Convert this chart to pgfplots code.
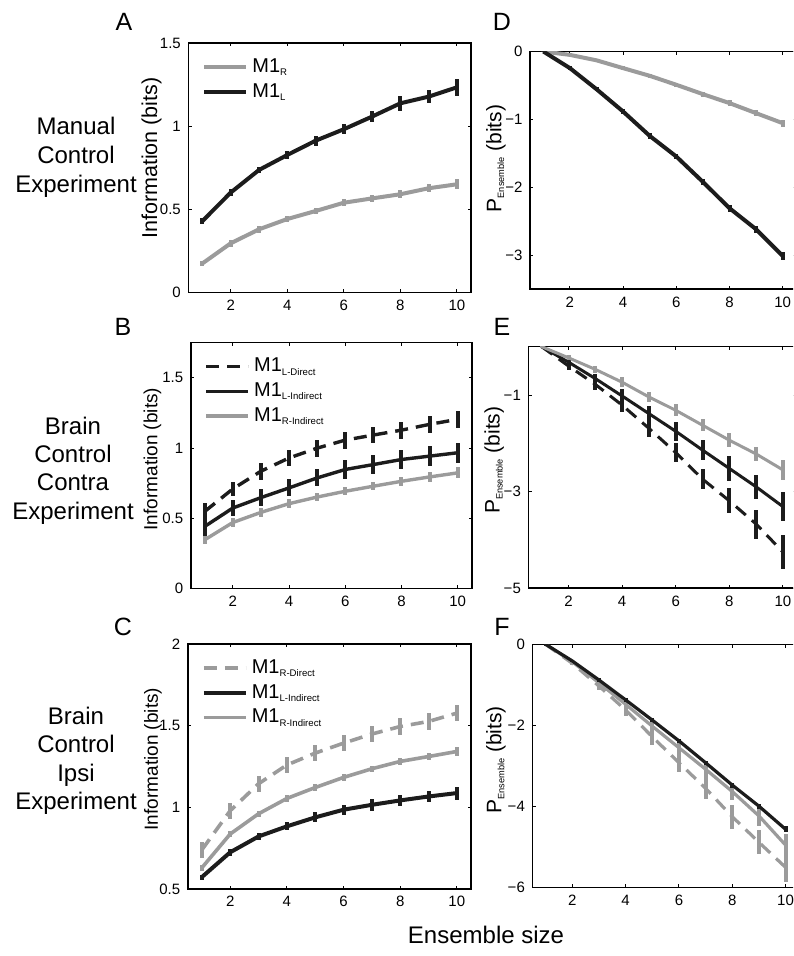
\documentclass[border=0pt]{standalone}
\usepackage{pgfplots}
\pgfplotsset{compat=1.18}
\usepackage{fontspec}
\setmainfont{Liberation Sans}
\definecolor{cblack}{RGB}{28,28,28}
\definecolor{cgray}{RGB}{155,155,155}
\newcommand{\sub}[1]{\raisebox{-1.6pt}{\fontsize{4.8}{5}\selectfont #1}}
\newcommand{\ysub}[1]{\raisebox{-1.4pt}{\fontsize{4.6}{5}\selectfont #1}}
\pgfplotsset{
  panel/.style={scale only axis, anchor=south west, xmin=0.5, xmax=10.5,
    xtick={2,4,6,8,10}, xticklabels={2,4,6,8,10},
    tick align=inside, major tick length=1.6pt,
    every axis/.append style={line width=0.8pt},
    every tick/.append style={line width=0.5pt, black},
    tick label style={font=\fontsize{7.5}{8}\selectfont},
    /pgf/number format/assume math mode=true,
    legend cell align=left,
    legend style={draw=none, fill=none, at={(0.04,0.965)}, anchor=north west,
      font=\fontsize{10}{11.5}\selectfont, inner sep=1pt, row sep=0pt},
    legend image code/.code={\draw[##1] (0pt,0pt) -- (21pt,0pt);},
    error bars/y dir=both, error bars/y explicit, error bars/error mark=none,
  },
  blk/.style={color=cblack, solid, line width=#1, no marks, error bars/error bar style={solid, line width=2pt, color=cblack}},
  gry/.style={color=cgray, solid, line width=#1, no marks, error bars/error bar style={solid, line width=2pt, color=cgray}},
  dsh/.style={dash pattern=on 6.5pt off 4pt},
}
\begin{document}
\begin{tikzpicture}
\path[use as bounding box, clip] (0,0) rectangle (396.5pt,478pt);

% ---------- A ----------
\begin{axis}[panel, at={(94.15pt,331.65pt)}, width=141.35pt, height=124.7pt,
  ymin=0, ymax=1.5, ytick={0,0.5,1,1.5}, yticklabels={0,0.5,1,1.5},
  ylabel={Information (bits)},
  ylabel style={at={(axis description cs:-0.13,0.54)}, anchor=center, font=\fontsize{10.75}{12}\selectfont}]
\addplot[gry=2pt] coordinates {(1,0.176)+-(0,0.015) (2,0.297)+-(0,0.02) (3,0.381)+-(0,0.02) (4,0.443)+-(0,0.02) (5,0.491)+-(0,0.02) (6,0.541)+-(0,0.02) (7,0.567)+-(0,0.02) (8,0.592)+-(0,0.025) (9,0.628)+-(0,0.025) (10,0.652)+-(0,0.03)};
\addlegendentry{M1\sub{R}}
\addplot[blk=2pt] coordinates {(1,0.431)+-(0,0.02) (2,0.602)+-(0,0.02) (3,0.738)+-(0,0.02) (4,0.828)+-(0,0.025) (5,0.914)+-(0,0.03) (6,0.983)+-(0,0.03) (7,1.059)+-(0,0.035) (8,1.139)+-(0,0.045) (9,1.179)+-(0,0.04) (10,1.235)+-(0,0.05)};
\addlegendentry{M1\sub{L}}
\end{axis}

% ---------- D ----------
\begin{axis}[panel, at={(265pt,333.35pt)}, width=133pt, height=118.9pt,
  ymin=-3.5, ymax=0, ytick={0,-1,-2,-3}, yticklabels={0,−1,−2,−3},
  ylabel={P\ysub{Ensemble} (bits)},
  ylabel style={at={(axis description cs:-0.128,0.55)}, anchor=center, font=\fontsize{10.5}{12}\selectfont}]
\addplot[gry=2pt] coordinates {(1,0)+-(0,0.01) (2,-0.05)+-(0,0.02) (3,-0.13)+-(0,0.02) (4,-0.245)+-(0,0.03) (5,-0.358)+-(0,0.03) (6,-0.49)+-(0,0.03) (7,-0.628)+-(0,0.035) (8,-0.76)+-(0,0.04) (9,-0.908)+-(0,0.04) (10,-1.055)+-(0,0.05)};
\addplot[blk=2pt] coordinates {(1,0)+-(0,0.01) (2,-0.245)+-(0,0.03) (3,-0.555)+-(0,0.03) (4,-0.884)+-(0,0.04) (5,-1.242)+-(0,0.04) (6,-1.546)+-(0,0.04) (7,-1.92)+-(0,0.05) (8,-2.307)+-(0,0.05) (9,-2.617)+-(0,0.05) (10,-3.01)+-(0,0.06)};
\end{axis}

% ---------- B ----------
\begin{axis}[panel, at={(95.35pt,183.65pt)}, width=140.5pt, height=123pt,
  ymin=0, ymax=1.75, ytick={0,0.5,1,1.5}, yticklabels={0,0.5,1,1.5},
  ylabel={Information (bits)},
  ylabel style={at={(axis description cs:-0.136,0.527)}, anchor=center, font=\fontsize{9.5}{11}\selectfont}]
\addplot[blk=1.7pt, dsh] coordinates {(1,0.55)+-(0,0.06) (2,0.71)+-(0,0.05) (3,0.836)+-(0,0.06) (4,0.93)+-(0,0.06) (5,1.0)+-(0,0.06) (6,1.057)+-(0,0.06) (7,1.093)+-(0,0.06) (8,1.128)+-(0,0.06) (9,1.169)+-(0,0.06) (10,1.205)+-(0,0.06)};
\addlegendentry{M1\sub{L-Direct}}
\addplot[blk=1.7pt] coordinates {(1,0.443)+-(0,0.07) (2,0.574)+-(0,0.06) (3,0.648)+-(0,0.06) (4,0.717)+-(0,0.06) (5,0.788)+-(0,0.06) (6,0.848)+-(0,0.065) (7,0.883)+-(0,0.065) (8,0.919)+-(0,0.065) (9,0.943)+-(0,0.07) (10,0.967)+-(0,0.07)};
\addlegendentry{M1\sub{L-Indirect}}
\addplot[gry=1.7pt] coordinates {(1,0.348)+-(0,0.03) (2,0.471)+-(0,0.03) (3,0.543)+-(0,0.03) (4,0.605)+-(0,0.03) (5,0.652)+-(0,0.03) (6,0.693)+-(0,0.03) (7,0.729)+-(0,0.03) (8,0.764)+-(0,0.03) (9,0.795)+-(0,0.035) (10,0.824)+-(0,0.04)};
\addlegendentry{M1\sub{R-Indirect}}
\end{axis}

% ---------- E ----------
\begin{axis}[panel, at={(264.15pt,183.85pt)}, width=134pt, height=120.8pt,
  ymin=-5, ymax=0, ytick={-1,-3,-5}, yticklabels={−1,−3,−5},
  ylabel={P\ysub{Ensemble} (bits)},
  ylabel style={at={(axis description cs:-0.127,0.53)}, anchor=center, font=\fontsize{10.5}{12}\selectfont}]
\addplot[blk=1.5pt, dsh] coordinates {(1,0)+-(0,0.02) (2,-0.40)+-(0,0.08) (3,-0.78)+-(0,0.12) (4,-1.21)+-(0,0.14) (5,-1.69)+-(0,0.17) (6,-2.19)+-(0,0.19) (7,-2.74)+-(0,0.2) (8,-3.19)+-(0,0.26) (9,-3.67)+-(0,0.3) (10,-4.25)+-(0,0.35)};
\addplot[blk=1.5pt] coordinates {(1,0)+-(0,0.02) (2,-0.32)+-(0,0.05) (3,-0.66)+-(0,0.1) (4,-1.02)+-(0,0.15) (5,-1.385)+-(0,0.15) (6,-1.75)+-(0,0.2) (7,-2.14)+-(0,0.2) (8,-2.52)+-(0,0.25) (9,-2.9)+-(0,0.25) (10,-3.31)+-(0,0.3)};
\addplot[gry=1.5pt] coordinates {(1,0)+-(0,0.02) (2,-0.23)+-(0,0.05) (3,-0.47)+-(0,0.08) (4,-0.735)+-(0,0.1) (5,-1.04)+-(0,0.1) (6,-1.316)+-(0,0.12) (7,-1.625)+-(0,0.12) (8,-1.935)+-(0,0.15) (9,-2.22)+-(0,0.15) (10,-2.55)+-(0,0.2)};
\end{axis}

% ---------- C ----------
\begin{axis}[panel, at={(93.85pt,33.5pt)}, width=141.65pt, height=122.35pt,
  ymin=0.5, ymax=2, ytick={0.5,1,1.5,2}, yticklabels={0.5,1,1.5,2},
  ylabel={Information (bits)},
  ylabel style={at={(axis description cs:-0.1225,0.531)}, anchor=center, font=\fontsize{9.5}{11}\selectfont}]
\addplot[gry=1.8pt, dsh] coordinates {(1,0.74)+-(0,0.05) (2,0.98)+-(0,0.05) (3,1.145)+-(0,0.05) (4,1.26)+-(0,0.05) (5,1.333)+-(0,0.05) (6,1.394)+-(0,0.05) (7,1.45)+-(0,0.05) (8,1.496)+-(0,0.05) (9,1.527)+-(0,0.05) (10,1.578)+-(0,0.05)};
\addlegendentry{M1\sub{R-Direct}}
\addplot[blk=2pt] coordinates {(1,0.573)+-(0,0.015) (2,0.725)+-(0,0.02) (3,0.822)+-(0,0.02) (4,0.884)+-(0,0.025) (5,0.939)+-(0,0.03) (6,0.986)+-(0,0.03) (7,1.016)+-(0,0.035) (8,1.043)+-(0,0.035) (9,1.067)+-(0,0.035) (10,1.088)+-(0,0.04)};
\addlegendentry{M1\sub{L-Indirect}}
\addplot[gry=1.8pt] coordinates {(1,0.63)+-(0,0.02) (2,0.837)+-(0,0.02) (3,0.961)+-(0,0.02) (4,1.055)+-(0,0.02) (5,1.122)+-(0,0.02) (6,1.184)+-(0,0.02) (7,1.237)+-(0,0.02) (8,1.282)+-(0,0.02) (9,1.312)+-(0,0.02) (10,1.343)+-(0,0.025)};
\addlegendentry{M1\sub{R-Indirect}}
\end{axis}

% ---------- F ----------
\begin{axis}[panel, at={(266.15pt,34.15pt)}, width=133.3pt, height=121.7pt,
  ymin=-6, ymax=0, ytick={0,-2,-4,-6}, yticklabels={0,−2,−4,−6},
  ylabel={P\ysub{Ensemble} (bits)},
  ylabel style={at={(axis description cs:-0.136,0.525)}, anchor=center, font=\fontsize{10.5}{12}\selectfont}]
\addplot[gry=1.6pt, dsh] coordinates {(1,0)+-(0,0.03) (2,-0.47)+-(0,0.05) (3,-1.03)+-(0,0.1) (4,-1.62)+-(0,0.15) (5,-2.28)+-(0,0.2) (6,-2.92)+-(0,0.22) (7,-3.55)+-(0,0.27) (8,-4.25)+-(0,0.3) (9,-4.88)+-(0,0.3) (10,-5.5)+-(0,0.35)};
\addplot[gry=1.6pt] coordinates {(1,0)+-(0,0.03) (2,-0.43)+-(0,0.05) (3,-0.95)+-(0,0.08) (4,-1.48)+-(0,0.1) (5,-2.02)+-(0,0.15) (6,-2.55)+-(0,0.18) (7,-3.08)+-(0,0.2) (8,-3.63)+-(0,0.22) (9,-4.23)+-(0,0.25) (10,-4.95)+-(0,0.28)};
\addplot[blk=1.6pt] coordinates {(1,0)+-(0,0.03) (2,-0.41)+-(0,0.03) (3,-0.88)+-(0,0.04) (4,-1.37)+-(0,0.04) (5,-1.87)+-(0,0.05) (6,-2.38)+-(0,0.05) (7,-2.92)+-(0,0.05) (8,-3.47)+-(0,0.06) (9,-3.99)+-(0,0.06) (10,-4.56)+-(0,0.07)};
\end{axis}

% ---------- text ----------
\node[font=\fontsize{12.5}{13}\selectfont] at (62pt,467pt) {A};
\node[font=\fontsize{12.5}{13}\selectfont] at (61.5pt,314.5pt) {B};
\node[font=\fontsize{12.5}{13}\selectfont] at (61.5pt,164.5pt) {C};
\node[font=\fontsize{12.5}{13}\selectfont] at (251pt,467pt) {D};
\node[font=\fontsize{12.5}{13}\selectfont] at (251pt,314.5pt) {E};
\node[font=\fontsize{12.5}{13}\selectfont] at (251pt,164.5pt) {F};
\node[align=center, font=\fontsize{12}{14.5}\selectfont] at (38pt,399.5pt) {Manual\\Control\\Experiment};
\node[align=center, font=\fontsize{12}{14.2}\selectfont] at (36.5pt,242.75pt) {Brain\\Control\\Contra\\Experiment};
\node[align=center, font=\fontsize{12}{14.2}\selectfont] at (38pt,97.6pt) {Brain\\Control\\Ipsi\\Experiment};
\node[font=\fontsize{12}{13}\selectfont] at (243pt,10.5pt) {Ensemble size};
\end{tikzpicture}
\end{document}
